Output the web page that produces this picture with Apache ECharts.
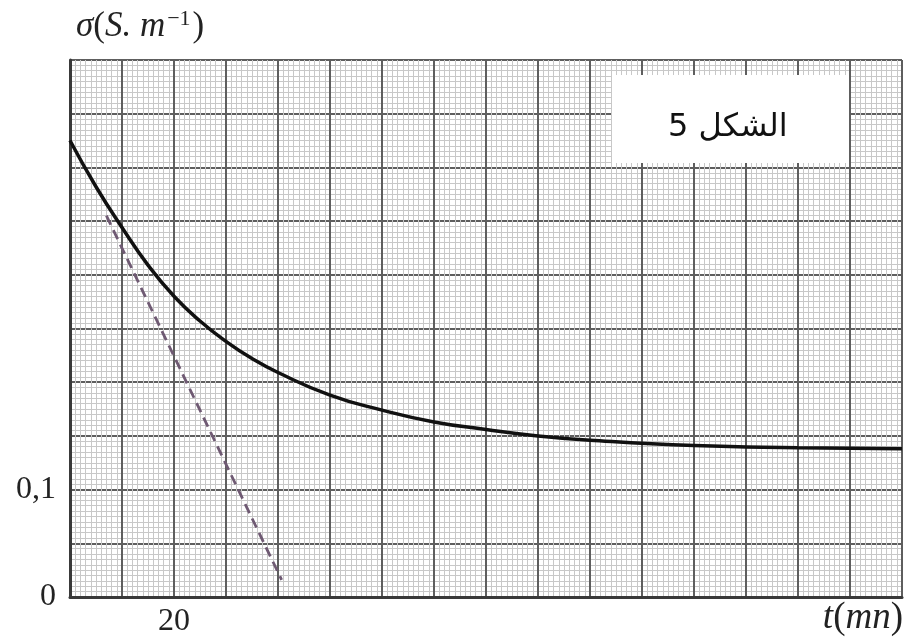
<!DOCTYPE html>
<html>
<head>
<meta charset="utf-8">
<script src="https://cdn.jsdelivr.net/npm/echarts@6/dist/echarts.min.js"></script>
<style>
html,body{margin:0;padding:0;background:#fff;}
#chart{width:905px;height:643px;}
</style>
</head>
<body>
<div id="chart"></div>
<script>
// Data
const timeMin = [0, 5, 10, 15, 20, 25, 30, 35, 40, 50, 60, 70, 80, 90, 100, 120, 140, 160];
const sigma   = [0.425, 0.382, 0.344, 0.309, 0.280, 0.257, 0.238, 0.222, 0.209, 0.188, 0.174, 0.163, 0.156, 0.150, 0.146, 0.141, 0.139, 0.138];
const tangentT = [7, 40.7];
const tangentSigma = [0.355, 0.016];
const xTickLabels = [20];
const yTickLabels = [0, 0.1];
const yLabelText = ['0', '0,1'];
const figureTitle = '5 الشكل';

const curveData = timeMin.map((t, i) => [t, sigma[i]]);
const tangentData = tangentT.map((t, i) => [t, tangentSigma[i]]);

const chart = echarts.init(document.getElementById('chart'), null, {renderer: 'canvas'});
const serif = '"Liberation Serif", "DejaVu Serif", serif';

chart.setOption({
  animation: false,
  backgroundColor: '#ffffff',
  grid: {left: 70, right: 3, top: 60, bottom: 46, containLabel: false},
  xAxis: {
    type: 'value', min: 0, max: 160, interval: 10,
    axisLine: {show: true, onZero: false, lineStyle: {color: '#3a3a3a', width: 3}},
    axisTick: {show: false},
    axisLabel: {
      margin: 9, fontFamily: serif, fontSize: 32, color: '#222',
      formatter: v => xTickLabels.includes(v) ? String(v) : ''
    },
    splitLine: {show: true, lineStyle: {color: '#5e5e5e', width: 2}},
    minorTick: {show: false, splitNumber: 10},
    minorSplitLine: {show: true, lineStyle: {color: '#c8c8c8', width: 1}}
  },
  yAxis: {
    type: 'value', min: 0, max: 0.5, interval: 0.05,
    axisLine: {show: true, onZero: false, lineStyle: {color: '#3a3a3a', width: 3}},
    axisTick: {show: false},
    axisLabel: {
      margin: 14, fontFamily: serif, fontSize: 32, color: '#222',
      formatter: v => {
        for (let i = 0; i < yTickLabels.length; i++) {
          if (Math.abs(v - yTickLabels[i]) < 1e-9) return yLabelText[i];
        }
        return '';
      }
    },
    splitLine: {show: true, lineStyle: {color: '#5e5e5e', width: 2}},
    minorTick: {show: false, splitNumber: 10},
    minorSplitLine: {show: true, lineStyle: {color: '#c8c8c8', width: 1}}
  },
  series: [
    {
      type: 'line', data: curveData, smooth: 0.5, showSymbol: false,
      lineStyle: {color: '#111', width: 3.5}, z: 5
    },
    {
      type: 'line', data: tangentData, showSymbol: false,
      lineStyle: {color: '#6f5a73', width: 2.8, type: [10, 6]}, z: 4
    }
  ],
  graphic: [
    {
      type: 'rect', left: 612, top: 75, z: 100,
      shape: {width: 237, height: 88},
      style: {fill: '#ffffff', stroke: null}
    },
    {
      type: 'text', left: 668, top: 112, z: 101,
      style: {text: figureTitle, fontFamily: '"DejaVu Sans", sans-serif', fontSize: 32, fill: '#111'}
    },
    {
      type: 'text', left: 76, top: 8, z: 101,
      style: {
        text: '{i|σ}{n|(}{i|S. m}{s|−1}{n|)}',
        rich: {
          i: {fontFamily: serif, fontStyle: 'italic', fontSize: 35, fill: '#222'},
          n: {fontFamily: serif, fontSize: 35, fill: '#222'},
          s: {fontFamily: serif, fontSize: 22, fill: '#222', verticalAlign: 'top', padding: [0, 2, 16, 2]}
        }
      }
    },
    {
      type: 'text', right: 2, top: 600, z: 101,
      style: {
        text: '{i|t}{n|(}{i|mn}{n|)}',
        rich: {
          i: {fontFamily: serif, fontStyle: 'italic', fontSize: 37, fill: '#222'},
          n: {fontFamily: serif, fontSize: 37, fill: '#222'}
        }
      }
    }
  ]
});
</script>
</body>
</html>
